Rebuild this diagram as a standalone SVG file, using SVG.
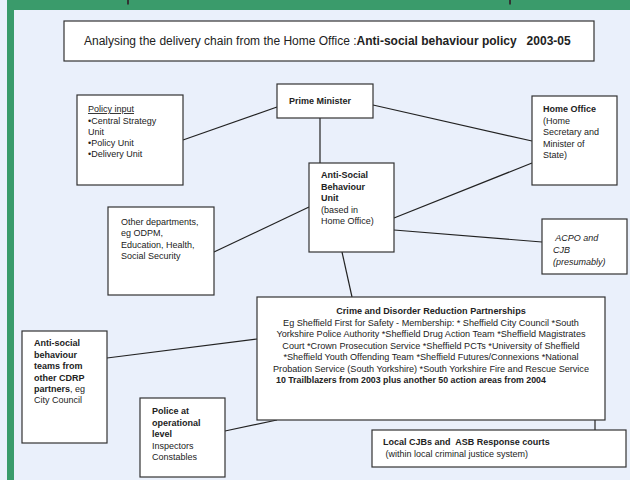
<svg xmlns="http://www.w3.org/2000/svg" width="630" height="480" viewBox="0 0 630 480">
<style>
.box{fill:#ffffff;stroke:#333333;stroke-width:1.2}
.t{font-family:"Liberation Sans",Arial,sans-serif;font-size:9px;fill:#222222}
.s{font-size:9.1px}
.b{font-weight:bold}
.i{font-style:italic}
.c{stroke:#222222;stroke-width:1.2;fill:none}
</style>
<rect x="0" y="0" width="630" height="480" fill="#EAF0FB"/>
<g id="frame">
<rect x="7" y="0" width="623" height="10" fill="#3A9B6B"/>
<rect x="7" y="0" width="7" height="480" fill="#3A9B6B"/>
<line x1="128" y1="0" x2="128" y2="4.5" stroke="#333" stroke-width="2"/>
<line x1="510" y1="0" x2="510" y2="4.5" stroke="#333" stroke-width="2"/>
</g>
<g id="connectors">
<line class="c" x1="183" y1="140" x2="277" y2="107"/>
<line class="c" x1="373" y1="105" x2="532" y2="141"/>
<line class="c" x1="320" y1="118" x2="320" y2="163"/>
<line class="c" x1="394" y1="218" x2="532" y2="163"/>
<line class="c" x1="394" y1="230" x2="542" y2="242"/>
<line class="c" x1="214" y1="252" x2="309" y2="207"/>
<line class="c" x1="342" y1="252" x2="352" y2="297"/>
<line class="c" x1="107" y1="358" x2="257" y2="339"/>
<line class="c" x1="225" y1="431" x2="277" y2="420"/>
<line class="c" x1="595" y1="420" x2="595" y2="430"/>
</g>
<g id="title">
<rect class="box" x="64" y="21" width="530" height="40"/>
<text class="t" x="84" y="44.5" style="font-size:12px" xml:space="preserve">Analysing the delivery chain from the Home Office :<tspan class="b">Anti-social behaviour policy   2003-05</tspan></text>
</g>
<g id="policy-input">
<rect class="box" x="77" y="95" width="106" height="90"/>
<text class="t" x="88" y="112" text-decoration="underline">Policy input</text>
<text class="t" x="88" y="124">•Central Strategy</text>
<text class="t" x="88" y="135">Unit</text>
<text class="t" x="88" y="146">•Policy Unit</text>
<text class="t" x="88" y="157">•Delivery Unit</text>
</g>
<g id="prime-minister">
<rect class="box" x="277" y="84" width="96" height="34"/>
<text class="t b" x="289" y="104">Prime Minister</text>
</g>
<g id="home-office">
<rect class="box" x="532" y="96" width="85" height="89"/>
<text class="t b" x="543" y="112">Home Office</text>
<text class="t" x="543" y="123.5">(Home</text>
<text class="t" x="543" y="135">Secretary and</text>
<text class="t" x="543" y="146.5">Minister of</text>
<text class="t" x="543" y="158">State)</text>
</g>
<g id="asb-unit">
<rect class="box" x="309" y="163" width="85" height="89"/>
<text class="t b" x="321" y="178">Anti-Social</text>
<text class="t b" x="321" y="189.5">Behaviour</text>
<text class="t b" x="321" y="201">Unit</text>
<text class="t" x="321" y="213">(based in</text>
<text class="t" x="321" y="224">Home Office)</text>
</g>
<g id="other-departments">
<rect class="box" x="108" y="207" width="106" height="88"/>
<text class="t" x="121" y="225">Other departments,</text>
<text class="t" x="121" y="236">eg ODPM,</text>
<text class="t" x="121" y="247.5">Education, Health,</text>
<text class="t" x="121" y="258.5">Social Security</text>
</g>
<g id="acpo">
<rect class="box" x="542" y="219" width="85" height="55"/>
<text class="t i" x="553" y="241" xml:space="preserve"> ACPO and</text>
<text class="t i" x="553" y="253">CJB</text>
<text class="t i" x="553" y="265">(presumably)</text>
</g>
<g id="cdrp">
<rect class="box" x="257" y="297" width="348" height="123"/>
<text class="t s b" x="431" y="313.5" text-anchor="middle">Crime and Disorder Reduction Partnerships</text>
<text class="t s" x="431" y="325.5" text-anchor="middle">Eg Sheffield First for Safety - Membership: * Sheffield City Council *South</text>
<text class="t s" x="431" y="337" text-anchor="middle">Yorkshire Police Authority *Sheffield Drug Action Team *Sheffield Magistrates</text>
<text class="t s" x="431" y="348.5" text-anchor="middle">Court *Crown Prosecution Service *Sheffield PCTs *University of Sheffield</text>
<text class="t s" x="431" y="360" text-anchor="middle">*Sheffield Youth Offending Team *Sheffield Futures/Connexions *National</text>
<text class="t s" x="431" y="371.5" text-anchor="middle">Probation Service (South Yorkshire) *South Yorkshire Fire and Rescue Service</text>
<text class="t b" x="276" y="383" style="font-size:8.8px">10 Trailblazers from 2003 plus another 50 action areas from 2004</text>
</g>
<g id="asb-teams">
<rect class="box" x="22" y="331" width="85" height="112"/>
<text class="t b" x="34" y="346">Anti-social</text>
<text class="t b" x="34" y="357.5">behaviour</text>
<text class="t b" x="34" y="369">teams from</text>
<text class="t b" x="34" y="380.5">other CDRP</text>
<text class="t" x="34" y="392"><tspan class="b">partners</tspan>, eg</text>
<text class="t" x="34" y="403">City Council</text>
</g>
<g id="police">
<rect class="box" x="140" y="398" width="85" height="79"/>
<text class="t b" x="152" y="414">Police at</text>
<text class="t b" x="152" y="425.5">operational</text>
<text class="t b" x="152" y="437">level</text>
<text class="t" x="152" y="448.5">Inspectors</text>
<text class="t" x="152" y="459.5">Constables</text>
</g>
<g id="local-cjbs">
<rect class="box" x="372" y="430" width="254" height="37"/>
<text class="t b" x="383" y="445" xml:space="preserve">Local CJBs and  ASB Response courts</text>
<text class="t" x="383" y="457" xml:space="preserve"> (within local criminal justice system)</text>
</g>
</svg>
